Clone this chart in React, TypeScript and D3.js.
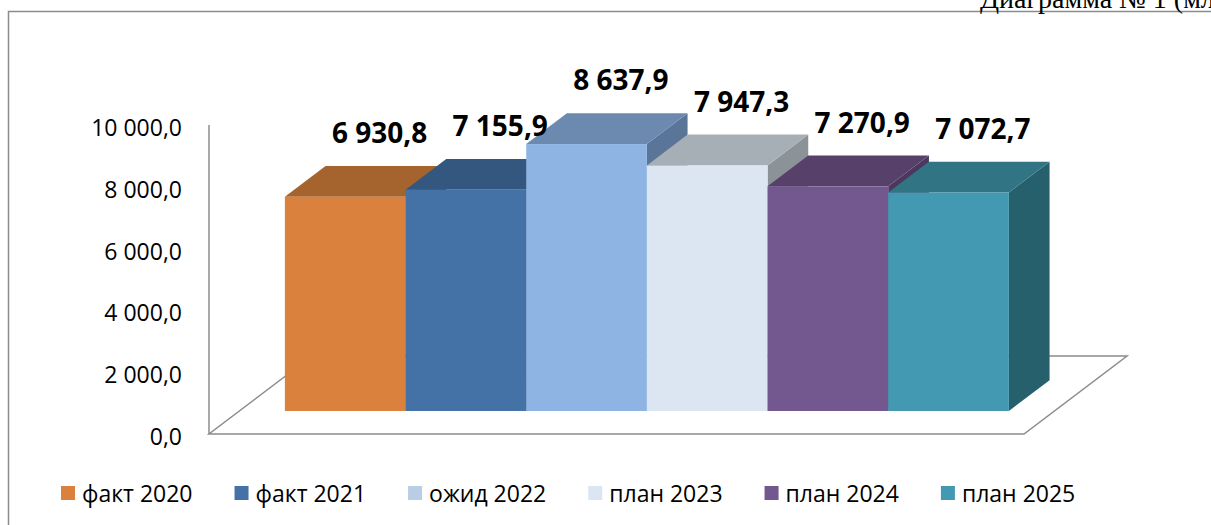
import React, { useEffect, useRef } from "react";
import * as d3 from "d3";

const categories = ["факт 2020", "факт 2021", "ожид 2022", "план 2023", "план 2024", "план 2025"];
const values = [6930.8, 7155.9, 8637.9, 7947.3, 7270.9, 7072.7];
const yTicks = [0, 2000, 4000, 6000, 8000, 10000];
const titleText = "Диаграмма № 1  (млн. руб.)";

const frontColors = ["#DA823D", "#4472A6", "#8DB4E2", "#DCE6F2", "#72588E", "#4399B1"];
const topColors = ["#A5642E", "#34577F", "#6C89B0", "#A7AFB6", "#57416B", "#317585"];
const sideColors = ["#8E5426", "#2E4C70", "#5A7598", "#8B9399", "#4C385E", "#27606D"];
const legendColors = ["#DA823D", "#4472A6", "#B9CDE5", "#DCE6F2", "#72588E", "#4399B1"];

const W = 1211;
const H = 525;
const FONT = "'Open Sans', 'Noto Sans', sans-serif";

export default function App() {
  const ref = useRef<SVGSVGElement | null>(null);

  useEffect(() => {
    const svg = d3.select(ref.current);
    svg.selectAll("*").remove();

    const locale = d3.formatLocale({ decimal: ",", thousands: " ", grouping: [3], currency: ["", ""] });
    const fmt = locale.format(",.1f");

    const floorL = 209, floorR = 1024;
    const depth = { x: 103, y: -78 };
    const y = d3.scaleLinear().domain([0, 10000]).range([434, 125]);
    const x = d3.scaleBand<string>().domain(categories).range([floorL, floorR]).paddingInner(0).paddingOuter(0.377);
    const f0 = 0.295, fd = 0.395;
    const off = { x: depth.x * f0, y: depth.y * f0 };
    const dd = { x: depth.x * fd, y: depth.y * fd };
    const y0 = y(0);

    // Frame
    svg.append("path")
      .attr("d", `M8.5,${H} L8.5,11.5 L${W},11.5`)
      .attr("fill", "none").attr("stroke", "#8C8C8C").attr("stroke-width", 1.5);

    // Title (clipped at top, as in the source)
    svg.append("text")
      .attr("x", 980).attr("y", 8)
      .attr("font-family", "'Liberation Serif', 'Times New Roman', serif")
      .attr("font-size", 28).attr("fill", "#000")
      .text(titleText);

    // Floor
    svg.append("path")
      .attr("d", `M${floorL},${y0} L${floorR},${y0} L${floorR + depth.x},${y0 + depth.y} L${floorL + depth.x},${y0 + depth.y} Z`)
      .attr("fill", "none").attr("stroke", "#8C8C8C").attr("stroke-width", 1.5);

    // Axis line
    svg.append("line")
      .attr("x1", floorL).attr("x2", floorL).attr("y1", y(0)).attr("y2", y(10000))
      .attr("stroke", "#8C8C8C").attr("stroke-width", 1.5);

    // Axis labels
    const axisG = svg.append("g");
    yTicks.forEach((t) => {
      axisG.append("text")
        .attr("x", 182).attr("y", y(t) + 2)
        .attr("text-anchor", "end").attr("dominant-baseline", "central")
        .attr("font-family", FONT).attr("font-size", 23).attr("fill", "#000")
        .text(fmt(t));
    });

    // Bars
    const barsG = svg.append("g");
    categories.forEach((c, i) => {
      const x0 = (x(c) as number) + off.x;
      const x1 = x0 + x.bandwidth();
      const yt = y(values[i]) + off.y;
      const yb = y0 + off.y;
      barsG.append("path")
        .attr("d", `M${x1},${yt} L${x1 + dd.x},${yt + dd.y} L${x1 + dd.x},${yb + dd.y} L${x1},${yb} Z`)
        .attr("fill", sideColors[i]);
      barsG.append("path")
        .attr("d", `M${x0},${yt} L${x1},${yt} L${x1 + dd.x},${yt + dd.y} L${x0 + dd.x},${yt + dd.y} Z`)
        .attr("fill", topColors[i]);
      barsG.append("rect")
        .attr("x", x0).attr("y", yt).attr("width", x1 - x0).attr("height", yb - yt)
        .attr("fill", frontColors[i]);
    });

    // Data labels
    categories.forEach((c, i) => {
      const x0 = (x(c) as number) + off.x;
      const cx = x0 + x.bandwidth() / 2 + dd.x / 2 + 14;
      const yt = y(values[i]) + off.y + dd.y;
      svg.append("text")
        .attr("x", cx).attr("y", yt - 34)
        .attr("text-anchor", "middle").attr("dominant-baseline", "central")
        .attr("font-family", FONT).attr("font-weight", 700).attr("font-size", 28).attr("fill", "#000")
        .text(fmt(values[i]));
    });

    // Legend
    const legG = svg.append("g");
    let lx = 61;
    const ly = 493;
    categories.forEach((c, i) => {
      legG.append("rect")
        .attr("x", lx).attr("y", ly - 7).attr("width", 14).attr("height", 14)
        .attr("fill", legendColors[i]);
      const t = legG.append("text")
        .attr("x", lx + 21).attr("y", ly)
        .attr("dominant-baseline", "central")
        .attr("font-family", FONT).attr("font-size", 23).attr("fill", "#000")
        .text(c);
      const w = (t.node() as SVGTextElement).getComputedTextLength();
      lx = lx + 21 + w + 42;
    });
  }, []);

  return (
    <svg ref={ref} width={W} height={H} style={{ position: "absolute", left: 0, top: 0, background: "#fff" }} />
  );
}
